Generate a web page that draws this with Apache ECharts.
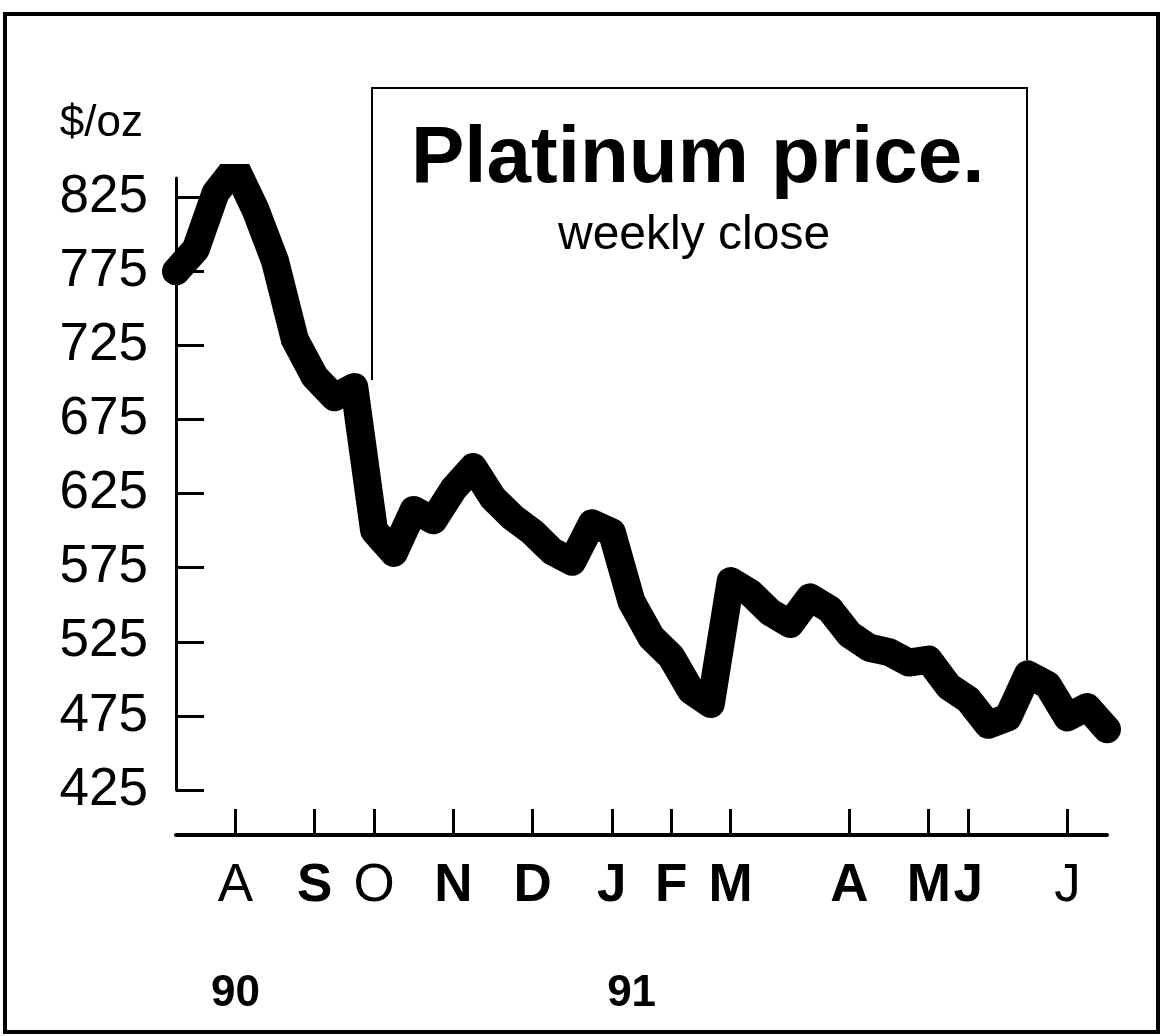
<!DOCTYPE html>
<html>
<head>
<meta charset="utf-8">
<title>Platinum price</title>
<script src="https://cdn.jsdelivr.net/npm/echarts@6/dist/echarts.min.js"></script>
<style>
  html, body { margin: 0; padding: 0; background: #fff; }
  #chart { width: 1164px; height: 1036px; }
</style>
</head>
<body>
<div id="chart"></div>
<script>
// Weekly closing price of platinum, $/oz, August 1990 to July 1991
const closes = [
  775, 790, 828, 845, 817, 782, 729, 704, 690, 697,
  600, 585, 614, 607, 628, 643, 622, 609, 599, 586,
  579, 605, 599, 552, 528, 515, 492, 483, 566, 558,
  545, 537, 555, 547, 530, 521, 518, 511, 513, 495,
  486, 469, 474, 503, 496, 474, 481, 466
];

// Month initials and the week each one sits under
const monthMarks = [
  [3, 'A'], [7, 'S'], [10, 'O'], [14, 'N'], [18, 'D'], [22, 'J'],
  [25, 'F'], [28, 'M'], [34, 'A'], [38, 'M'], [40, 'J'], [45, 'J']
];

// Year markers beneath the month row
const yearMarks = [[3, '90'], [23, '91']];

// Price scale
const priceMin = 425;
const priceMax = 838;
const priceStep = 50;

const weeks = closes.map((_, i) => String(i));
const monthAt = new Map(monthMarks);
const yearAt = new Map(yearMarks);
const FONT = 'Liberation Sans, Arial, Helvetica, sans-serif';
const lightMonth = new Set([0, 2, 11]); // order of letters drawn in regular weight

const monthOrder = new Map(monthMarks.map((m, k) => [m[0], k]));

const chart = echarts.init(document.getElementById('chart'), null, { renderer: 'canvas' });

chart.setOption({
  backgroundColor: '#ffffff',
  animation: false,
  title: [
    {
      text: 'Platinum price.',
      left: 406,
      top: 115,
      textStyle: { fontFamily: FONT, fontSize: 80, fontWeight: 'bold', color: '#000' }
    },
    {
      text: 'weekly close',
      left: 553,
      top: 207,
      textStyle: { fontFamily: FONT, fontSize: 48, fontWeight: 'normal', color: '#000' }
    }
  ],
  grid: { left: 176, right: 57, top: 178, bottom: 246, containLabel: false },
  xAxis: [
    {
      type: 'category',
      data: weeks,
      boundaryGap: false,
      position: 'bottom',
      offset: 45,
      axisLine: { show: true, lineStyle: { color: '#000', width: 4 } },
      axisTick: {
        show: true,
        inside: true,
        length: 26,
        interval: (i) => monthAt.has(i),
        lineStyle: { color: '#000', width: 3 }
      },
      axisLabel: {
        show: true,
        interval: (i) => monthAt.has(i),
        margin: 25,
        formatter: (v, i) => {
          const idx = Number(v);
          if (!monthAt.has(idx)) return '';
          const style = lightMonth.has(monthOrder.get(idx)) ? 'n' : 'b';
          return '{' + style + '|' + monthAt.get(idx) + '}';
        },
        rich: {
          b: { fontFamily: FONT, fontSize: 53, fontWeight: 'bold', color: '#000' },
          n: { fontFamily: FONT, fontSize: 53, fontWeight: 'normal', color: '#000' }
        }
      },
      splitLine: { show: false }
    },
    {
      type: 'category',
      data: weeks,
      boundaryGap: false,
      position: 'bottom',
      offset: 150,
      axisLine: { show: false },
      axisTick: { show: false },
      axisLabel: {
        show: true,
        interval: (i) => yearAt.has(i),
        margin: 32,
        formatter: (v) => yearAt.get(Number(v)) || '',
        fontFamily: FONT,
        fontSize: 44,
        fontWeight: 'bold',
        color: '#000'
      },
      splitLine: { show: false }
    }
  ],
  yAxis: {
    type: 'value',
    min: priceMin,
    max: priceMax,
    interval: priceStep,
    name: '$/oz',
    nameLocation: 'end',
    nameGap: 54,
    nameTextStyle: {
      fontFamily: FONT, fontSize: 44, color: '#000',
      align: 'right', verticalAlign: 'middle', padding: [0, 33, 0, 0]
    },
    axisLine: { show: true, lineStyle: { color: '#000', width: 3 } },
    axisTick: { show: true, inside: true, length: 28, lineStyle: { color: '#000', width: 3 } },
    axisLabel: {
      showMaxLabel: false,
      margin: 28,
      fontFamily: FONT,
      fontSize: 53,
      color: '#000'
    },
    splitLine: { show: false }
  },
  series: [
    {
      type: 'line',
      xAxisIndex: 0,
      yAxisIndex: 0,
      data: closes,
      symbol: 'none',
      smooth: false,
      silent: true,
      lineStyle: { color: '#000', width: 28, join: 'round', cap: 'round' }
    }
  ],
  graphic: [
    {
      type: 'rect',
      silent: true,
      shape: { x: 5, y: 14, width: 1153, height: 1018 },
      style: { fill: 'none', stroke: '#000', lineWidth: 4 }
    },
    {
      type: 'polyline',
      silent: true,
      shape: { points: [[372, 380], [372, 88], [1027, 88], [1027, 660]] },
      style: { fill: 'none', stroke: '#000', lineWidth: 2 }
    }
  ]
});
</script>
</body>
</html>
